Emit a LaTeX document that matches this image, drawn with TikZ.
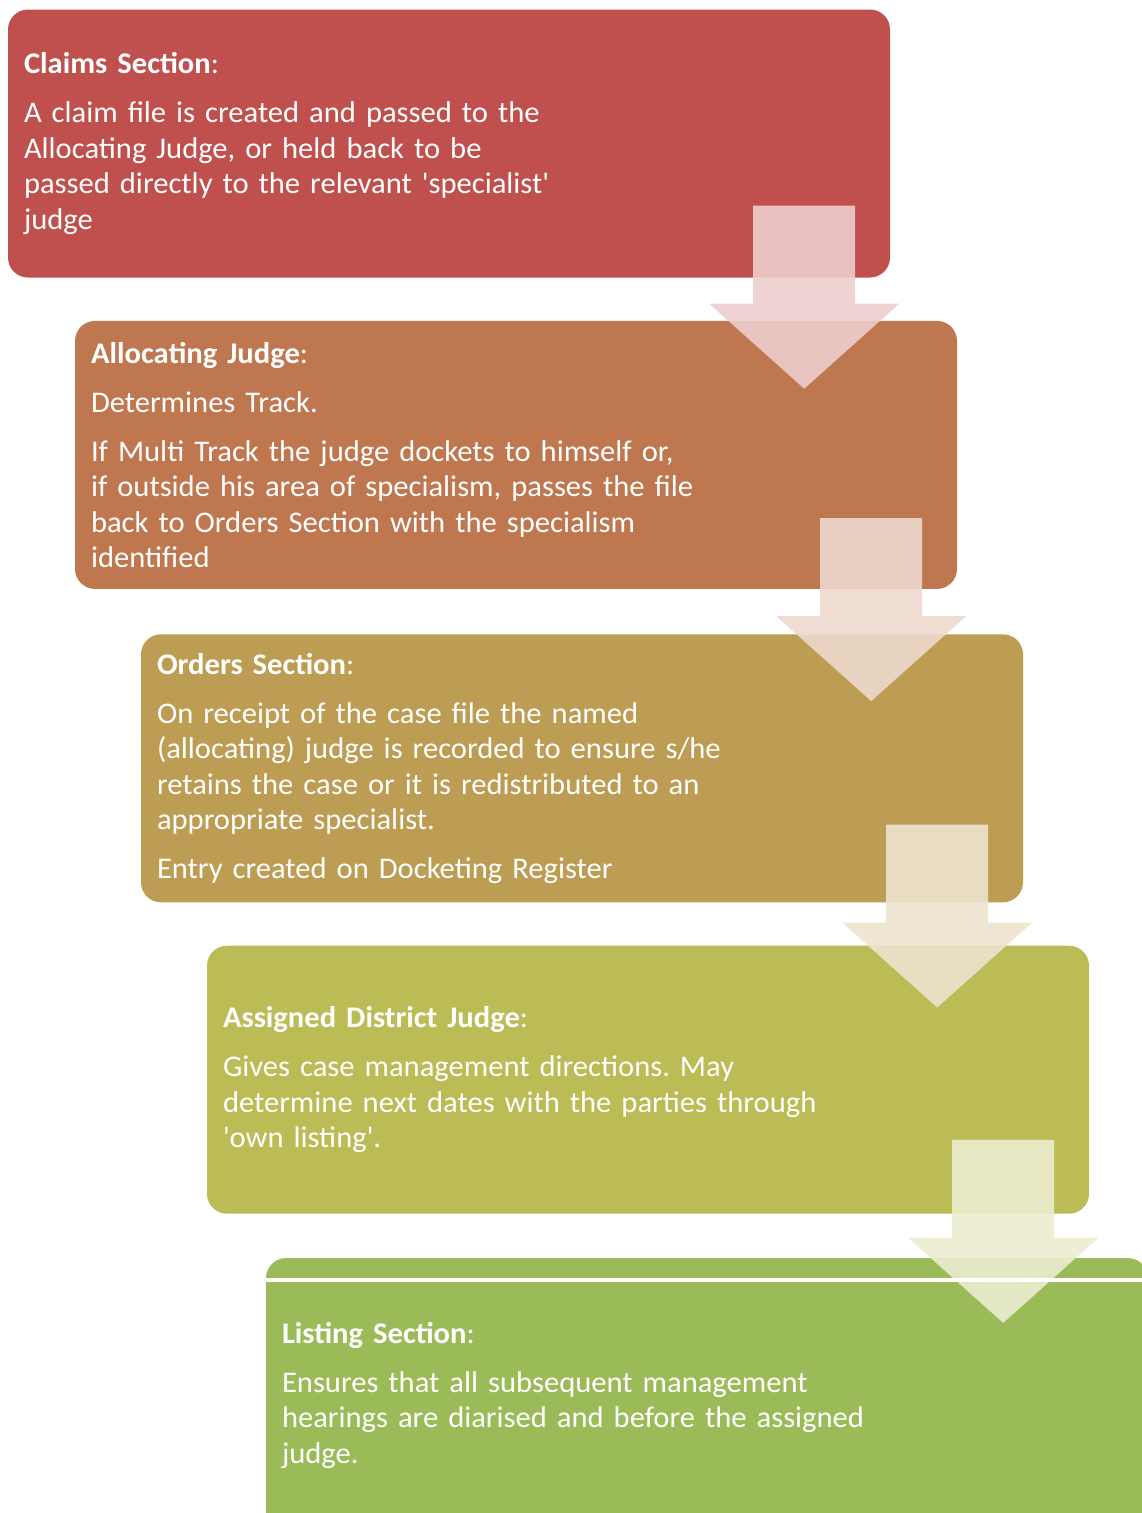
\documentclass[tikz,border=0pt]{standalone}
\usepackage{fontspec}
\setmainfont[FakeStretch=1.02]{Carlito}
\usetikzlibrary{positioning, calc}

\definecolor{claimsC}{HTML}{C0504D}
\definecolor{allocC}{HTML}{BF7750}
\definecolor{ordersC}{HTML}{BD9C53}
\definecolor{assignC}{HTML}{BBBC56}
\definecolor{listC}{HTML}{9BBB59}

\newcommand{\stagefont}{\fontsize{30}{35.5}\selectfont\frenchspacing}

% block arrow hanging from the bottom right of a stage box
\newcommand{\stagearrow}[3]{%
    \fill[flow, #2!28!white] ($(#1.south east)+(-35,-#3)$) -- ++(0,98) -- ++(44,0)
        -- ++(-95,85) -- ++(-95,-85) -- ++(44,0) -- ++(0,-98) -- cycle;}

\begin{document}
\begin{tikzpicture}[x=1pt, y=-1pt,
        stage/.style={rectangle, rounded corners=20pt, minimum width=882pt, minimum height=268pt,
            text width=850pt, inner sep=16pt, align=left, text=white, font=\stagefont},
        flow/.style={draw=none, fill opacity=0.9},
    ]
        \useasboundingbox (0,0) rectangle (1141,1513);
        \node[stage, fill=claimsC] (claims) at (449,143.5) {%
            \textbf{Claims Section}:\\[13.5pt]
            A claim file is created and passed to the\\
            Allocating Judge, or held back to be\\
            passed directly to the relevant \textquotesingle specialist\textquotesingle\\
            judge};
        \node[stage, fill=allocC, below right=43pt and 67pt of claims.south west] (alloc) {%
            \textbf{Allocating Judge}:\\[13.5pt]
            Determines Track.\\[13.5pt]
            If Multi Track the judge dockets to himself or,\\
            if outside his area of specialism, passes the file\\
            back to Orders Section with the specialism\\
            identified};
        \node[stage, fill=ordersC, below right=45pt and 66pt of alloc.south west] (orders) {%
            \textbf{Orders Section}:\\[13.5pt]
            On receipt of the case file the named\\
            (allocating) judge is recorded to ensure s/he\\
            retains the case or it is redistributed to an\\
            appropriate specialist.\\[13.5pt]
            Entry created on Docketing Register};
        \node[stage, fill=assignC, below right=43pt and 66pt of orders.south west] (assigned) {%
            \textbf{Assigned District Judge}:\\[13.5pt]
            Gives case management directions. May\\
            determine next dates with the parties through\\
            \textquotesingle own listing\textquotesingle.};
        \node[stage, fill=listC, minimum height=274pt, below right=44pt and 59pt of assigned.south west] (listing) {%
            \textbf{Listing Section}:\\[13.5pt]
            Ensures that all subsequent management\\
            hearings are diarised and before the assigned\\
            judge.};

        \stagearrow{claims}{claimsC}{72}
        \stagearrow{alloc}{allocC}{71}
        \stagearrow{orders}{ordersC}{78}
        \stagearrow{assigned}{assignC}{74}

        \fill[white] ($(listing.north west)+(-2,20)$) rectangle ++(900,4);
    \end{tikzpicture}
\end{document}
